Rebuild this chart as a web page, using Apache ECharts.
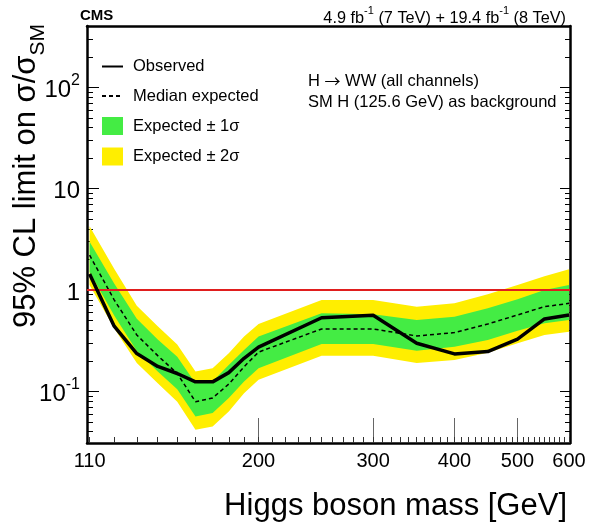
<!DOCTYPE html>
<html>
<head>
<meta charset="utf-8">
<script src="https://cdn.jsdelivr.net/npm/echarts@6/dist/echarts.min.js"></script>
<style>html,body{margin:0;padding:0;background:#fff}#c{width:603px;height:526px}</style>
</head>
<body>
<div id="c"></div>
<script>
// ---- data ----
const masses    = [110, 120, 130, 140, 150, 160, 170, 180, 190, 200, 250, 300, 350, 400, 450, 500, 550, 600];
const observed  = [1.44, 0.44, 0.236, 0.176, 0.150, 0.124, 0.124, 0.153, 0.212, 0.273, 0.533, 0.563, 0.298, 0.234, 0.247, 0.327, 0.518, 0.567];
const expMedian = [2.21, 0.80, 0.36, 0.225, 0.150, 0.079, 0.086, 0.118, 0.175, 0.244, 0.413, 0.413, 0.352, 0.380, 0.462, 0.567, 0.685, 0.739];
const exp1Lo    = [1.51, 0.56, 0.25, 0.157, 0.105, 0.0565, 0.061, 0.0857, 0.125, 0.169, 0.294, 0.294, 0.252, 0.276, 0.322, 0.397, 0.470, 0.506];
const exp1Hi    = [2.99, 1.16, 0.52, 0.325, 0.220, 0.120, 0.125, 0.182, 0.256, 0.347, 0.589, 0.576, 0.506, 0.546, 0.660, 0.809, 1.00, 1.12];
const exp2Lo    = [1.12, 0.42, 0.19, 0.12, 0.079, 0.0418, 0.045, 0.0633, 0.096, 0.130, 0.225, 0.225, 0.190, 0.204, 0.241, 0.298, 0.360, 0.388];
const exp2Hi    = [4.27, 1.62, 0.70, 0.44, 0.29, 0.157, 0.169, 0.238, 0.347, 0.462, 0.797, 0.797, 0.685, 0.739, 0.906, 1.12, 1.37, 1.60];
const smLine    = 1;
const xTickLabels = [110, 200, 300, 400, 500, 600];
const xMajorTicks = [200, 300, 400, 500];
const yTickLabels = [0.1, 1, 10, 100];
const X_MIN = 109, X_MAX = 602, Y_MIN = 0.0309, Y_MAX = 404;

// minor tick positions
const xMinorTicks = [];
for (let m = 110; m <= 600; m += 10) xMinorTicks.push(m);
const yMinorTicks = [];
[0.01, 0.1, 1, 10, 100].forEach(d => { for (let k = 2; k <= 9; k++) { const v = +(k * d).toPrecision(3); if (v > Y_MIN && v < Y_MAX) yMinorTicks.push(v); } });

const pairs = (xs, ys) => xs.map((x, i) => [x, ys[i]]);

const YELLOW = '#ffee00', GREEN = '#44ec44', RED = '#e01e1e';
const FONT = 'Liberation Sans';
const FRAME = 2.5;

function yLabel(v) {
  const e = Math.round(Math.log10(v));
  if (e === 0) return '{b|1}';
  if (e === 1) return '{b|10}';
  return '{b|10}{s|' + (e < 0 ? '-' : '') + Math.abs(e) + '}';
}

// band drawn as one polygon through the axes' own coordinate conversion
function bandSeries(name, lo, hi, color, z) {
  return {
    name: name, type: 'custom', coordinateSystem: 'cartesian2d', xAxisIndex: 0, yAxisIndex: 0,
    data: pairs(masses, hi), silent: true, z: z, color: color, itemStyle: {color: color},
    renderItem: function (params, api) {
      if (params.dataIndex !== 0) return null;
      const pts = [];
      for (let i = 0; i < masses.length; i++) pts.push(api.coord([masses[i], hi[i]]));
      for (let i = masses.length - 1; i >= 0; i--) pts.push(api.coord([masses[i], lo[i]]));
      return {type: 'polygon', shape: {points: pts}, style: {fill: color, stroke: null}};
    }
  };
}

const chart = echarts.init(document.getElementById('c'), null, {renderer: 'canvas'});
const logX = (extra) => Object.assign({type: 'log', min: X_MIN, max: X_MAX, splitLine: {show: false}, gridIndex: 0}, extra);
const logY = (extra) => Object.assign({type: 'log', min: Y_MIN, max: Y_MAX, splitLine: {show: false}, gridIndex: 0}, extra);

chart.setOption({
  animation: false,
  textStyle: {fontFamily: FONT},
  grid: {left: 87, right: 33, top: 26, bottom: 83},
  legend: {
    orient: 'vertical', left: 96, top: 53, itemWidth: 21, itemHeight: 18, itemGap: 12.5,
    selectedMode: false,
    textStyle: {fontSize: 16.5, color: '#000', fontFamily: FONT, padding: [0, 0, 0, 5]},
    data: [
      {name: 'Observed', itemStyle: {opacity: 0}},
      {name: 'Median expected', itemStyle: {opacity: 0}},
      {name: 'Expected \u00b1 1\u03c3', icon: 'rect', itemStyle: {color: GREEN}},
      {name: 'Expected \u00b1 2\u03c3', icon: 'rect', itemStyle: {color: YELLOW}}
    ]
  },
  xAxis: [
    logX({position: 'bottom',
      axisLine: {show: true, lineStyle: {color: '#000', width: FRAME}},
      axisTick: {show: true, inside: true, length: 25, customValues: xMajorTicks, lineStyle: {color: '#666', width: 1}},
      axisLabel: {show: true, customValues: xTickLabels, fontSize: 20, color: '#000', margin: 8, fontFamily: FONT}}),
    logX({position: 'bottom', axisLine: {show: false},
      axisTick: {show: true, inside: true, length: 6, customValues: xMinorTicks, lineStyle: {color: '#333', width: 1}},
      axisLabel: {show: false}}),
    logX({position: 'top', axisLine: {show: true, lineStyle: {color: '#000', width: FRAME}},
      axisTick: {show: false}, axisLabel: {show: false}})
  ],
  yAxis: [
    logY({position: 'left',
      axisLine: {show: true, lineStyle: {color: '#000', width: FRAME}},
      axisTick: {show: true, inside: true, length: 12, customValues: yTickLabels, lineStyle: {color: '#000', width: 1}},
      axisLabel: {show: true, customValues: yTickLabels, margin: 7, color: '#000', formatter: yLabel,
        rich: {b: {fontSize: 24, lineHeight: 30, verticalAlign: 'bottom', fontFamily: FONT, color: '#000'},
               s: {fontSize: 16, lineHeight: 20, verticalAlign: 'top', fontFamily: FONT, color: '#000'}}}}),
    logY({position: 'left', axisLine: {show: false},
      axisTick: {show: true, inside: true, length: 6, customValues: yMinorTicks, lineStyle: {color: '#000', width: 1}},
      axisLabel: {show: false}}),
    logY({position: 'right',
      axisLine: {show: true, lineStyle: {color: '#000', width: FRAME}},
      axisTick: {show: true, inside: true, length: 10, customValues: yTickLabels, lineStyle: {color: '#000', width: 1}},
      axisLabel: {show: false}}),
    logY({position: 'right', axisLine: {show: false},
      axisTick: {show: true, inside: true, length: 5, customValues: yMinorTicks, lineStyle: {color: '#000', width: 1}},
      axisLabel: {show: false}})
  ],
  series: [
    bandSeries('Expected \u00b1 2\u03c3', exp2Lo, exp2Hi, YELLOW, 1),
    bandSeries('Expected \u00b1 1\u03c3', exp1Lo, exp1Hi, GREEN, 2),
    {name: 'SM', type: 'line', data: [], z: 3, silent: true,
     markLine: {silent: true, symbol: ['none', 'none'], label: {show: false},
       lineStyle: {color: RED, width: 2, type: 'solid'}, data: [{yAxis: smLine}]}},
    {name: 'Median expected', type: 'line', data: pairs(masses, expMedian), symbol: 'none', color: '#000',
     lineStyle: {color: '#000', width: 1.5, type: [4, 3]}, z: 4},
    {name: 'Observed', type: 'line', data: pairs(masses, observed), symbol: 'none', color: '#000',
     lineStyle: {color: '#000', width: 3.5}, z: 5}
  ],
  graphic: [
    {type: 'text', z: 100, x: 80, y: 16, style: {text: 'CMS', font: 'bold 15px "Liberation Sans"', fill: '#000', align: 'left', verticalAlign: 'middle'}},
    {type: 'text', z: 100, x: 566, y: 16, style: {
      text: '{b|4.9 fb}{s|-1}{b| (7 TeV) + 19.4 fb}{s|-1}{b| (8 TeV)}', align: 'right', verticalAlign: 'middle',
      rich: {b: {fontSize: 16.3, lineHeight: 22, verticalAlign: 'bottom', fontFamily: FONT, fill: '#000'},
             s: {fontSize: 11, lineHeight: 12, verticalAlign: 'top', fontFamily: FONT, fill: '#000'}}}},
    {type: 'text', z: 100, x: 308, y: 81, style: {
      text: '{t|H }{a|\u2192}{t| WW (all channels)}', align: 'left', verticalAlign: 'middle',
      rich: {t: {fontSize: 16.5, fontFamily: FONT, fill: '#000'}, a: {fontSize: 16, fontFamily: 'Noto Sans CJK SC', fill: '#000'}}}},
    {type: 'text', z: 100, x: 308, y: 102, style: {text: 'SM H (125.6 GeV) as background', font: '16.5px "Liberation Sans"', fill: '#000', align: 'left', verticalAlign: 'middle'}},
    {type: 'text', z: 100, x: 567, y: 506, style: {text: 'Higgs boson mass [GeV]', font: '31px "Liberation Sans"', fill: '#000', align: 'right', verticalAlign: 'middle'}},
    {type: 'text', z: 100, x: 29.5, y: 24, rotation: Math.PI / 2, style: {
      text: '{b|95% CL limit on \u03c3/\u03c3}{sub|SM}', align: 'right', verticalAlign: 'middle',
      rich: {b: {fontSize: 31, lineHeight: 34, verticalAlign: 'top', fontFamily: FONT, fill: '#000'},
             sub: {fontSize: 21, lineHeight: 38, verticalAlign: 'bottom', fontFamily: FONT, fill: '#000'}}}}
  ]
});
</script>
</body>
</html>
